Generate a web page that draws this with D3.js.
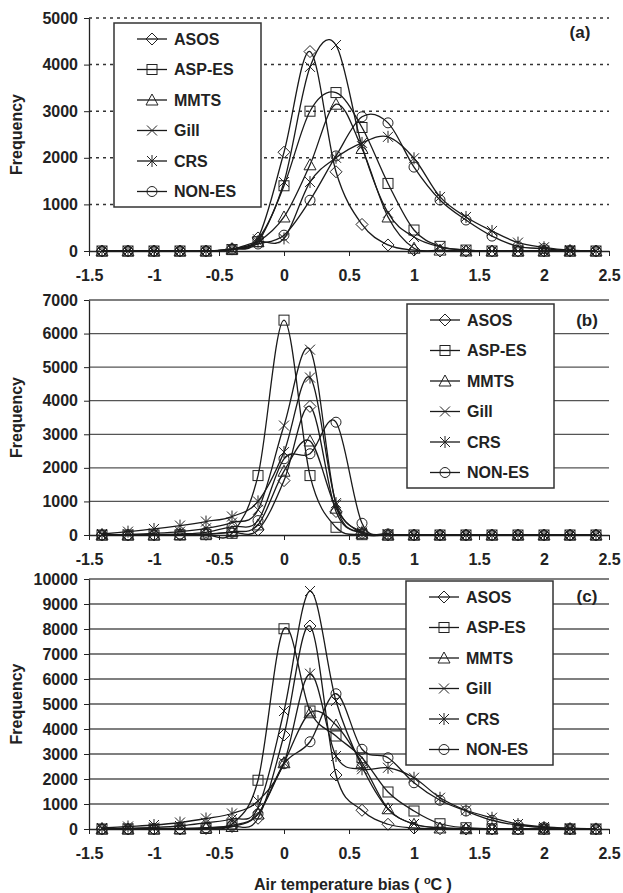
<!DOCTYPE html>
<html>
<head>
<meta charset="utf-8">
<script src="https://cdn.jsdelivr.net/npm/d3@7"></script>
<style>
  body { margin: 0; background: #fff; }
  svg text { font-family: "Liberation Sans", Arial, sans-serif; font-weight: bold; fill: #222; }
</style>
</head>
<body>
<script>
// bias bins (°C)
const xVals = [-1.4, -1.2, -1.0, -0.8, -0.6, -0.4, -0.2, 0, 0.2, 0.4, 0.6, 0.8, 1.0, 1.2, 1.4, 1.6, 1.8, 2.0, 2.2, 2.4];
const seriesNames = ['ASOS', 'ASP-ES', 'MMTS', 'Gill', 'CRS', 'NON-ES'];
const xTicks = [-1.5, -1, -0.5, 0, 0.5, 1, 1.5, 2, 2.5];

// panel (a)
const asosA  = [0, 0, 0, 0, 0, 50, 280, 2120, 4280, 1700, 570, 130, 20, 0, 0, 0, 0, 0, 0, 0];
const aspesA = [0, 0, 0, 0, 0, 30, 200, 1400, 3000, 3400, 2650, 1450, 450, 100, 20, 0, 0, 0, 0, 0];
const mmtsA  = [0, 0, 0, 0, 0, 40, 200, 730, 1850, 3150, 2200, 730, 60, 20, 0, 0, 0, 0, 0, 0];
const gillA  = [0, 0, 0, 0, 0, 40, 250, 1480, 3950, 4420, 2250, 820, 300, 90, 20, 0, 0, 0, 0, 0];
const crsA   = [0, 0, 0, 0, 0, 40, 200, 270, 1480, 2000, 2320, 2450, 1990, 1160, 730, 430, 180, 80, 20, 0];
const nonesA = [0, 0, 0, 0, 0, 30, 150, 340, 1090, 2040, 2880, 2750, 1800, 1095, 665, 320, 100, 50, 10, 0];

// panel (b)
const asosB  = [0, 0, 0, 10, 20, 80, 150, 1620, 3830, 700, 50, 0, 0, 0, 0, 0, 0, 0, 0, 0];
const aspesB = [0, 0, 0, 0, 10, 50, 1770, 6400, 1770, 230, 10, 0, 0, 0, 0, 0, 0, 0, 0, 0];
const mmtsB  = [0, 0, 0, 10, 30, 100, 300, 1900, 2800, 800, 50, 0, 0, 0, 0, 0, 0, 0, 0, 0];
const gillB  = [0, 20, 50, 100, 200, 370, 750, 3260, 5520, 900, 60, 10, 0, 0, 0, 0, 0, 0, 0, 0];
const crsB   = [30, 100, 180, 280, 400, 550, 1000, 2470, 4690, 950, 100, 20, 0, 0, 0, 0, 0, 0, 0, 0];
const nonesB = [0, 0, 10, 30, 80, 250, 430, 2270, 2420, 3360, 350, 30, 0, 0, 0, 0, 0, 0, 0, 0];

// panel (c)
const asosC  = [0, 0, 0, 0, 20, 100, 430, 3760, 8120, 2160, 750, 190, 40, 10, 0, 0, 0, 0, 0, 0];
const aspesC = [0, 0, 0, 0, 20, 200, 1950, 8010, 4720, 3720, 2850, 1480, 720, 210, 50, 10, 0, 0, 0, 0];
const mmtsC  = [0, 0, 0, 10, 40, 100, 600, 2650, 4650, 4160, 2650, 810, 190, 40, 10, 0, 0, 0, 0, 0];
const gillC  = [10, 30, 60, 120, 250, 400, 850, 4720, 9520, 5120, 2500, 800, 200, 50, 10, 0, 0, 0, 0, 0];
const crsC   = [40, 100, 160, 260, 420, 620, 1120, 2650, 6210, 2920, 2390, 2450, 2050, 1250, 750, 450, 200, 80, 30, 10];
const nonesC = [0, 0, 10, 20, 50, 150, 600, 2610, 3490, 5410, 3190, 2850, 1850, 1150, 720, 350, 150, 60, 20, 5];

const W = 623, H = 893;
const left = 89, right = 609;

const panels = [
  { tag: '(a)', yMax: 5000, top: 18, bottom: 251, dotted: true,
    series: [asosA, aspesA, mmtsA, gillA, crsA, nonesA],
    legend: { x: 114, y: 23 }, tagPos: [580, 38] },
  { tag: '(b)', yMax: 7000, top: 300, bottom: 535, dotted: false,
    series: [asosB, aspesB, mmtsB, gillB, crsB, nonesB],
    legend: { x: 407, y: 304 }, tagPos: [587, 326] },
  { tag: '(c)', yMax: 10000, top: 579, bottom: 829, dotted: false,
    series: [asosC, aspesC, mmtsC, gillC, crsC, nonesC],
    legend: { x: 406, y: 581 }, tagPos: [587, 602] }
];

const svg = d3.select('body').append('svg')
  .attr('width', W)
  .attr('height', H);

const x = d3.scaleLinear().domain([-1.5, 2.5]).range([left, right]);

// marker drawing, centred on 0,0
function marker(g, i) {
  const s = 5;
  const st = { fill: 'none', stroke: '#222', 'stroke-width': 1 };
  let m;
  if (i === 0) m = g.append('path').attr('d', `M0,${-s - 1}L${s + 1},0L0,${s + 1}L${-s - 1},0Z`);
  else if (i === 1) m = g.append('rect').attr('x', -s).attr('y', -s).attr('width', 2 * s).attr('height', 2 * s);
  else if (i === 2) m = g.append('path').attr('d', `M0,${-s - 1}L${s + 1},${s}L${-s - 1},${s}Z`);
  else if (i === 3) m = g.append('path').attr('d', `M${-s},${-s}L${s},${s}M${-s},${s}L${s},${-s}`);
  else if (i === 4) m = g.append('path').attr('d', `M${-s},${-s}L${s},${s}M${-s},${s}L${s},${-s}M0,${-s - 1}L0,${s + 1}`);
  else m = g.append('circle').attr('r', s);
  Object.entries(st).forEach(([k, v]) => m.attr(k, v));
}

panels.forEach(p => {
  const y = d3.scaleLinear().domain([0, p.yMax]).range([p.bottom, p.top]);
  const g = svg.append('g');

  // gridlines
  g.selectAll('.grid')
    .data(d3.range(1000, p.yMax + 1, 1000))
    .enter().append('line')
    .attr('x1', left).attr('x2', right)
    .attr('y1', d => y(d)).attr('y2', d => y(d))
    .attr('stroke', p.dotted ? '#333' : '#555')
    .attr('stroke-width', p.dotted ? 1.5 : 1.3)
    .attr('stroke-dasharray', p.dotted ? '3,4' : null);

  // y axis
  const yAxis = d3.axisLeft(y).tickValues(d3.range(0, p.yMax + 1, 1000))
    .tickSize(5).tickSizeOuter(0).tickPadding(6).tickFormat(d3.format('d'));
  const ya = g.append('g').attr('transform', `translate(${left},0)`).call(yAxis);
  ya.select('.domain').attr('stroke', '#222').attr('stroke-width', 1.3);
  ya.selectAll('line').attr('stroke', '#222');
  ya.selectAll('text').style('font-size', '16px').style('font-family', '"Liberation Sans", Arial, sans-serif').style('font-weight', 'bold').attr('fill', '#222');

  // x axis at zero
  const xAxis = d3.axisBottom(x).tickValues(xTicks).tickSize(5).tickSizeOuter(0).tickPadding(14)
    .tickFormat(d => String(d));
  const xa = g.append('g').attr('transform', `translate(0,${p.bottom})`).call(xAxis);
  xa.select('.domain').attr('stroke', '#222').attr('stroke-width', 1.3);
  xa.selectAll('line').attr('stroke', '#222');
  xa.selectAll('text').style('font-size', '16px').style('font-family', '"Liberation Sans", Arial, sans-serif').style('font-weight', 'bold').attr('fill', '#222');

  // lines
  const line = d3.line()
    .x((d, i) => x(xVals[i]))
    .y(d => y(d))
    .curve(d3.curveCardinal.tension(0));

  p.series.forEach((s, si) => {
    g.append('path')
      .datum(s)
      .attr('d', line)
      .attr('fill', 'none')
      .attr('stroke', '#1a1a1a')
      .attr('stroke-width', 1.3);
    const mg = g.append('g');
    s.forEach((v, i) => {
      const mk = mg.append('g').attr('transform', `translate(${x(xVals[i])},${y(v)})`);
      marker(mk, si);
    });
  });

  // legend
  const lg = g.append('g').attr('transform', `translate(${p.legend.x},${p.legend.y})`);
  lg.append('rect').attr('width', 147).attr('height', 184)
    .attr('fill', '#fff').attr('stroke', '#333').attr('stroke-width', 1.5);
  seriesNames.forEach((n, i) => {
    const ly = 16 + i * 30.5;
    lg.append('line').attr('x1', 23).attr('x2', 53).attr('y1', ly).attr('y2', ly)
      .attr('stroke', '#1a1a1a').attr('stroke-width', 1.3);
    const mk = lg.append('g').attr('transform', `translate(38,${ly})`);
    marker(mk, i);
    lg.append('text').attr('x', 60).attr('y', ly).attr('dy', '0.36em')
      .style('font-size', '16px').text(n);
  });

  g.append('text').attr('x', p.tagPos[0]).attr('y', p.tagPos[1])
    .attr('text-anchor', 'middle').style('font-size', '17px').text(p.tag);

  g.append('text')
    .attr('transform', `translate(22,${(p.top + p.bottom) / 2}) rotate(-90)`)
    .attr('text-anchor', 'middle')
    .style('font-size', '16px')
    .text('Frequency');
});

const title = svg.append('text')
  .attr('x', 353).attr('y', 890)
  .attr('text-anchor', 'middle')
  .style('font-size', '16px');
title.append('tspan').text('Air temperature bias ( ');
title.append('tspan').attr('dy', -6).style('font-size', '11px').text('o');
title.append('tspan').attr('dy', 6).text('C )');
</script>
</body>
</html>
